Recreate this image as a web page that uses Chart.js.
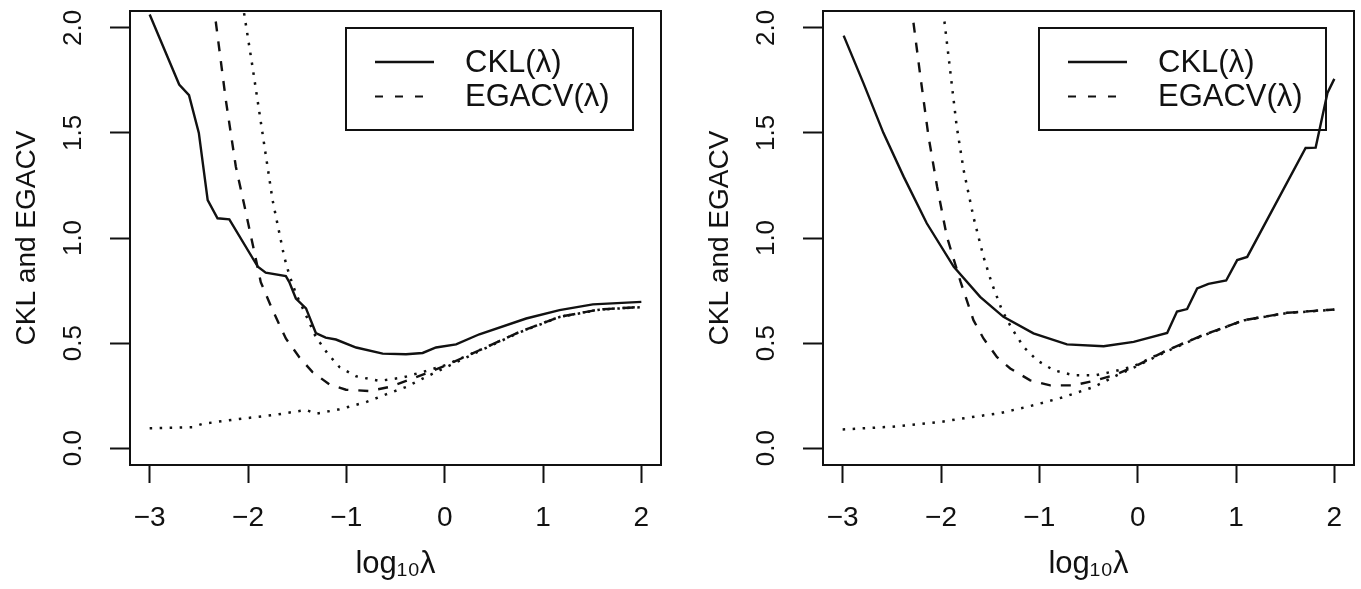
<!DOCTYPE html>
<html>
<head>
<meta charset="utf-8">
<title>CKL and EGACV</title>
<script src="https://cdn.jsdelivr.net/npm/chart.js@4.4.0/dist/chart.umd.min.js"></script>
<style>
  html, body { margin: 0; padding: 0; background: #fff; overflow: hidden; }
  .panel { position: absolute; top: 0; }
  #leftPanel { left: 0; }
  #rightPanel { left: 693px; }
</style>
</head>
<body>
<canvas id="leftPanel" class="panel" width="680" height="589"></canvas>
<canvas id="rightPanel" class="panel" width="668" height="589"></canvas>
<script>
// --- DATA ---
const xTicks = [-3, -2, -1, 0, 1, 2];
const yTicks = [0, 0.5, 1, 1.5, 2];
const seriesNames = ['CKL(\u03bb)', 'EGACV(\u03bb)'];

// left panel
const leftCklX = [-3.0, -2.7, -2.6, -2.5, -2.41, -2.31, -2.19, -1.9, -1.82, -1.615, -1.58, -1.513, -1.41, -1.31, -1.21, -1.106, -0.9, -0.63, -0.393, -0.224, -0.088, 0.116, 0.353, 0.829, 1.168, 1.507, 2.0];
const leftCklY = [2.063, 1.73, 1.68, 1.5, 1.18, 1.094, 1.089, 0.863, 0.835, 0.819, 0.79, 0.712, 0.665, 0.548, 0.526, 0.517, 0.479, 0.45, 0.447, 0.453, 0.479, 0.494, 0.542, 0.617, 0.657, 0.684, 0.696];
const leftGacvX = [-2.328, -2.226, -2.124, -2.02, -1.87, -1.75, -1.615, -1.48, -1.344, -1.174, -1.004, -0.767, -0.563, -0.326, 0.014, 0.353, 0.761, 1.168, 1.575, 2.0];
const leftGacvY = [2.03, 1.658, 1.34, 1.118, 0.79, 0.657, 0.522, 0.434, 0.362, 0.304, 0.278, 0.272, 0.291, 0.331, 0.394, 0.466, 0.553, 0.625, 0.66, 0.672];
const leftUpperX = [-2.04, -1.955, -1.853, -1.75, -1.632, -1.58, -1.513, -1.395, -1.31, -1.19, -1.07, -0.9, -0.665, -0.428, -0.19, 0.014, 0.353, 0.761, 1.168, 1.575, 2.0];
const leftUpperY = [2.07, 1.817, 1.5, 1.18, 0.911, 0.824, 0.736, 0.617, 0.529, 0.45, 0.386, 0.342, 0.32, 0.336, 0.367, 0.396, 0.466, 0.553, 0.625, 0.66, 0.672];
const leftLowerX = [-3.0, -2.566, -2.46, -2.16, -1.717, -1.41, -1.31, -1.07, -0.8, -0.597, -0.393, -0.19, 0.014, 0.353, 0.761, 1.168, 1.575, 2.0];
const leftLowerY = [0.095, 0.1, 0.116, 0.135, 0.159, 0.182, 0.164, 0.185, 0.219, 0.256, 0.291, 0.339, 0.385, 0.462, 0.551, 0.624, 0.659, 0.671];

// right panel
const rightCklX = [-2.99, -2.79, -2.585, -2.38, -2.145, -1.87, -1.602, -1.466, -1.365, -1.06, -0.719, -0.346, -0.041, 0.3, 0.4, 0.503, 0.605, 0.72, 0.9, 1.012, 1.114, 1.708, 1.81, 1.93, 2.0];
const rightCklY = [1.963, 1.738, 1.499, 1.292, 1.07, 0.863, 0.72, 0.665, 0.625, 0.546, 0.494, 0.485, 0.506, 0.548, 0.65, 0.662, 0.76, 0.782, 0.798, 0.895, 0.91, 1.428, 1.43, 1.69, 1.757];
const rightGacvX = [-2.28, -2.21, -2.127, -2.04, -1.94, -1.8, -1.67, -1.568, -1.432, -1.296, -1.093, -0.889, -0.652, -0.448, -0.244, -0.041, 0.3, 0.639, 1.08, 1.52, 2.0];
const rightGacvY = [2.024, 1.77, 1.483, 1.245, 1.006, 0.79, 0.609, 0.522, 0.434, 0.379, 0.323, 0.299, 0.299, 0.32, 0.347, 0.386, 0.466, 0.533, 0.609, 0.644, 0.66];
const rightUpperX = [-1.965, -1.9, -1.84, -1.77, -1.67, -1.568, -1.483, -1.38, -1.279, -1.16, -1.024, -0.855, -0.652, -0.43, -0.227, -0.041, 0.3, 0.639, 1.08, 1.52, 2.0];
const rightUpperY = [2.03, 1.77, 1.53, 1.324, 1.1, 0.911, 0.784, 0.657, 0.569, 0.482, 0.418, 0.371, 0.347, 0.347, 0.367, 0.39, 0.466, 0.533, 0.609, 0.644, 0.66];
const rightLowerX = [-3.0, -2.5, -2.0, -1.805, -1.398, -1.06, -0.754, -0.448, -0.21, -0.041, 0.3, 0.639, 1.08, 1.52, 2.0];
const rightLowerY = [0.089, 0.102, 0.125, 0.14, 0.167, 0.204, 0.243, 0.291, 0.347, 0.383, 0.462, 0.531, 0.608, 0.643, 0.659];

// --- STYLE HELPERS ---
const FONT = "'Liberation Sans', Arial, Helvetica, sans-serif";
const INK = '#111';

function pts(xs, ys) {
    return xs.map((x, i) => ({ x: x, y: ys[i] }));
}

function line(label, data, dash, width) {
    return {
        label: label,
        data: data,
        borderColor: INK,
        borderWidth: width,
        borderDash: dash,
        pointRadius: 0,
        tension: 0,
        fill: false
    };
}

// box round the plot area plus the two-entry legend in its top right corner
const framePlugin = {
    id: 'frame',
    afterDraw(chart) {
        const { ctx, chartArea: a } = chart;
        ctx.save();
        ctx.strokeStyle = INK;
        ctx.lineWidth = 2;
        ctx.strokeRect(a.left, a.top, a.right - a.left, a.bottom - a.top);

        const bw = 287, bh = 102;
        const bx = a.right - 28 - bw;
        const by = a.top + 17;
        ctx.strokeRect(bx, by, bw, bh);

        ctx.font = '31px ' + FONT;
        ctx.fillStyle = INK;
        ctx.textBaseline = 'middle';
        ctx.textAlign = 'left';
        chart.data.datasets.slice(0, 2).forEach((ds, i) => {
            const y = by + 34 + i * 34.5;
            ctx.lineWidth = i ? 1.8 : 2.4;
            ctx.setLineDash(i ? [8, 12] : []);
            ctx.beginPath();
            ctx.moveTo(bx + 29, y);
            ctx.lineTo(bx + 88, y);
            ctx.stroke();
            ctx.setLineDash([]);
            ctx.fillText(ds.label, bx + 119, y + 1);
        });
        ctx.restore();
    }
};

// --- BUILD ONE PANEL ---
function buildPanel(canvasId, series, padRight) {
    const datasets = [
        line(seriesNames[0], series[0], [], 2.4),
        line(seriesNames[1], series[1], [10, 10], 2.4),
        line('', series[2], [2.5, 7.5], 2.5),
        line('', series[3], [2.5, 7.5], 2.5)
    ];

    return new Chart(document.getElementById(canvasId), {
        type: 'line',
        data: { datasets: datasets },
        options: {
            responsive: false,
            animation: false,
            devicePixelRatio: 1,
            layout: { padding: { top: 11, right: padRight, bottom: 0, left: 0 } },
            plugins: {
                legend: { display: false },
                tooltip: { enabled: false }
            },
            scales: {
                x: {
                    type: 'linear',
                    min: -3.2,
                    max: 2.2,
                    afterBuildTicks: axis => { axis.ticks = xTicks.map(v => ({ value: v })); },
                    afterFit: axis => {
                        axis.height = 124;
                        axis.paddingLeft = 0;
                        axis.paddingRight = 0;
                    },
                    grid: {
                        drawOnChartArea: false,
                        tickLength: 18,
                        tickWidth: 2,
                        tickColor: INK
                    },
                    border: { display: false },
                    ticks: {
                        padding: 18,
                        color: INK,
                        font: { family: FONT, size: 28 },
                        callback: v => (v < 0 ? '\u2212' + Math.abs(v) : String(v))
                    },
                    title: {
                        display: true,
                        text: 'log\u2081\u2080\u03bb',
                        color: INK,
                        font: { family: FONT, size: 31 },
                        padding: { top: 0, bottom: 6 }
                    }
                },
                y: {
                    type: 'linear',
                    min: -0.08,
                    max: 2.08,
                    afterBuildTicks: axis => { axis.ticks = yTicks.map(v => ({ value: v })); },
                    afterFit: axis => {
                        // keep the rotated end labels from pushing the plot area inward
                        axis.width = 130;
                        axis.paddingTop = 0;
                        axis.paddingBottom = 0;
                    },
                    grid: {
                        drawOnChartArea: false,
                        tickLength: 20,
                        tickWidth: 2,
                        tickColor: INK
                    },
                    border: { display: false },
                    ticks: {
                        minRotation: 90,
                        maxRotation: 90,
                        crossAlign: 'center',
                        padding: 18,
                        color: INK,
                        font: { family: FONT, size: 26 },
                        callback: v => v.toFixed(1)
                    },
                    title: {
                        display: true,
                        text: 'CKL and EGACV',
                        color: INK,
                        font: { family: FONT, size: 28 },
                        padding: { top: 10, bottom: 0 }
                    }
                }
            }
        },
        plugins: [framePlugin]
    });
}

document.addEventListener('DOMContentLoaded', () => {
    buildPanel('leftPanel', [
        pts(leftCklX, leftCklY),
        pts(leftGacvX, leftGacvY),
        pts(leftUpperX, leftUpperY),
        pts(leftLowerX, leftLowerY)
    ], 19);

    buildPanel('rightPanel', [
        pts(rightCklX, rightCklY),
        pts(rightGacvX, rightGacvY),
        pts(rightUpperX, rightUpperY),
        pts(rightLowerX, rightLowerY)
    ], 7);
});
</script>
</body>
</html>
